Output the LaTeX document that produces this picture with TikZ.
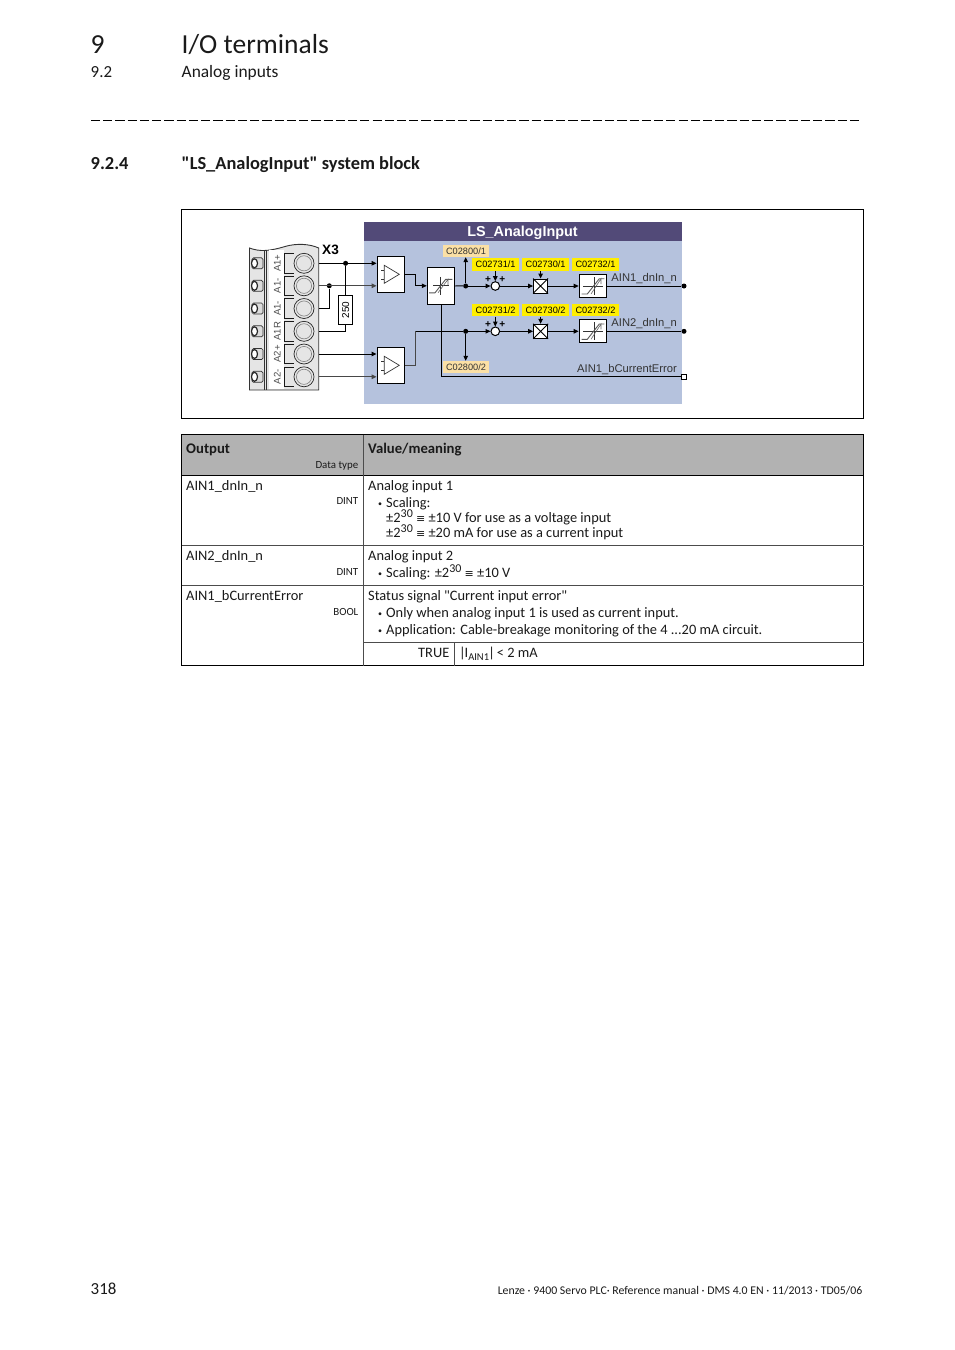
\documentclass[tikz,border=0pt]{standalone}
\usepackage{fontspec}
\setmainfont{Carlito}
\newfontfamily\qf{Carlito}
\newfontfamily\dia{Liberation Sans}
\newfontfamily\sym{DejaVu Sans}
\usetikzlibrary{arrows.meta,calc}
\definecolor{hdr}{HTML}{524A78}
\definecolor{blk}{HTML}{B5C2DD}
\definecolor{tagy}{HTML}{FFEE00}
\definecolor{tago}{HTML}{FBE0A5}
\definecolor{thg}{HTML}{B2B2B2}
\definecolor{ink}{HTML}{1A1A1A}
\newcommand{\fsz}[1]{\fontsize{#1}{#1}\selectfont}
\newcommand{\eqv}{{\fsz{11}\sym ≡}}
\newcommand{\pw}{2\raisebox{4.5pt}{\fsz{12}30}}
\newcommand{\bul}{\makebox[8pt][l]{\raisebox{1pt}{\fsz{8}•}}}
\newcommand{\qq}{{\qf\char34}}
\tikzset{
 txt/.style={anchor=base west,inner sep=0,font=\fsz{14.4},text=ink},
 txr/.style={anchor=base east,inner sep=0,font=\fsz{10.9},text=ink},
 dtxt/.style={anchor=base east,inner sep=0,font=\dia\fsz{11.2},text=black!80},
 tagY/.style={fill=tagy,inner sep=0,minimum width=47.3,minimum height=12.3,font=\dia\fsz{9.2}},
 tagO/.style={fill=tago,inner sep=0,minimum width=45.4,minimum height=12,font=\dia\fsz{9.2},text=black!80},
 wire/.style={line width=1,black},
 gwire/.style={line width=1.2,black!72},
 tip/.style={-{Triangle[length=5,width=4.5]}},
 dot/.style={circle,fill=black,inner sep=0,minimum size=5},
 fbox/.style={draw=black,line width=1,fill=white,inner sep=0},
 rule/.style={line width=.8,black},
 trow/.style={line width=.5,black!70},
}
\newcommand{\limiter}[1]{%
 \draw[line width=.7,black!80] ($(#1)+(-8,0)$)--($(#1)+(7.5,0)$) ($(#1)+(-.3,-9)$)--($(#1)+(-.3,9)$);
 \draw[line width=.9,black!65] ($(#1)+(-12,7)$)--($(#1)+(-6,7)$)--($(#1)+(4.7,-6.5)$)--($(#1)+(11.3,-6.5)$);
 \draw[line width=.6,black!60] ($(#1)+(-3,7)$)--($(#1)+(7,-6.5)$)--($(#1)+(7,-1)$);
}
\newcommand{\gainsym}[1]{%
 \draw[line width=.7,black!80] ($(#1)+(-10,0)$)--($(#1)+(10,0)$) ($(#1)+(1,-9)$)--($(#1)+(1,9)$);
 \draw[line width=.9,black!65] ($(#1)+(-11.3,8)$)--($(#1)+(-5.7,8)$)--($(#1)+(6.3,-7.3)$)--($(#1)+(11.3,-7.3)$);
 \draw[line width=.6,black!60] ($(#1)+(-2,8)$)--($(#1)+(8,-7.3)$)--($(#1)+(8,-2)$);
}
\newcommand{\ampsym}[1]{%
 \draw[line width=.7,black!80] ($(#1)+(-6.5,-9)$)--($(#1)+(-6.5,9)$)--($(#1)+(8.5,0)$)--cycle;
 \draw[line width=.6,black!80] ($(#1)+(-9.5,-4.5)$)--($(#1)+(-6.5,-4.5)$) ($(#1)+(-9.5,4.5)$)--($(#1)+(-6.5,4.5)$);
}
\newcommand{\termrow}[3]{% name, y, label
 \draw[line width=.7,black!80,fill=black!14,rounded corners=1.5] (252,#2-5.5) rectangle (263,#2+5.5);
 \draw[line width=1.2,black!85,fill=white] (254.5,#2) ellipse (3 and 4.5);
 \draw[line width=.9,black!90] (294,#2-9.8)--(284.8,#2-9.8)--(284.8,#2+9.8)--(294,#2+9.8);
 \draw[line width=.6,black!50] (304,#2) circle (7.6);
 \node[circle,draw=black!85,line width=.7,minimum size=20,inner sep=0] (#1) at (304,#2) {};
 \node[rotate=90,inner sep=0,font=\dia\fsz{9.6},text=black!70] (#1l) at (277.3,#2) {#3};
 \coordinate (#1p) at (318.7,#2);
}
\begin{document}
\begin{tikzpicture}[x=1pt,y=-1pt]
\useasboundingbox (0,0) rectangle (954,1350);
\fill[white] (0,0) rectangle (954,1350);
% page header
\node[txt,font=\fsz{27.5}] (ch) at (90.5,53.5) {9};
\node[txt,font=\fsz{27.5}] (cht) at (181.5,53.5) {I/O terminals};
\node[txt,font=\fsz{16.9}] (sc) at (90.5,77) {9.2};
\node[txt,font=\fsz{17.4}] (sct) at (181.5,77) {Analog inputs};
\draw[line width=1,black,dash pattern=on 9.2 off 3.04] (91,120)--(860,120);
\node[txt,font=\bfseries\fsz{18.4}] (ss) at (90.5,169) {9.2.4};
\node[txt,font=\bfseries\fsz{18.4}] (sst) at (181.5,169) {\qq LS\_AnalogInput\qq{} system block};
% figure frame
\draw[rule] (181.5,209.5) rectangle (863.5,418.5);
% function block
\fill[blk] (364,241) rectangle (682,404);
\fill[hdr] (364,222) rectangle (682,241);
\node[anchor=base,inner sep=0,font=\dia\bfseries\fsz{14.4},text=white] (bt) at (522.5,236) {LS\_AnalogInput};
% terminal block
\draw[line width=.9,black!80,fill=black!10] (249.5,248) .. controls (260,252) and (270,251) .. (285,246.5) .. controls (297,243) and (310,244) .. (318.7,248) -- (318.7,390) -- (249.5,390) -- cycle;
\fill[white] (269,250) rectangle (284,389);
\draw[line width=.8,black!80] (264,250.5)--(264,390) (266.7,250.5)--(266.7,390);
\termrow{ta}{263.3}{A1+}
\termrow{tb}{285.8}{A1-}
\termrow{tc}{308.5}{A1-}
\termrow{td}{331.3}{A1R}
\termrow{te}{354}{A2+}
\termrow{tf}{376.8}{A2-}
\node[anchor=base west,inner sep=0,font=\dia\bfseries\fsz{13.6}] (x3) at (322,254) {X3};
% amplifiers and blocks
\node[fbox,minimum width=27.5,minimum height=36] (amp1) at (390.8,274.3) {};
\node[fbox,minimum width=27.5,minimum height=36] (amp2) at (390.8,365.3) {};
\ampsym{amp1} \ampsym{amp2}
\node[fbox,minimum width=27.5,minimum height=37] (lim) at (441,285.8) {};
\limiter{lim}
\node[fbox,minimum width=14,minimum height=29,font=\dia\fsz{10}] (r250) at (345.6,309.8) {\rotatebox{90}{250}};
% nodes of the signal paths
\node[dot] (j1) at (345.6,263.3) {};
\node[dot] (j2) at (329.3,285.8) {};
\node[dot] (j3) at (465.7,286) {};
\node[dot] (j4) at (465.7,331.3) {};
\node[dot] (o1) at (684,286) {};
\node[dot] (o2) at (684,331.3) {};
\node[draw=black,fill=white,line width=.9,inner sep=0,minimum size=5] (o3) at (683.7,376.7) {};
\node[tagO] (tago1) at (466,251) {C02800/1};
\node[tagO] (tago2) at (466,367) {C02800/2};
\foreach \n/\x/\t in {a/495.6/C02731,b/545.6/C02730,c/595.5/C02732}{
  \node[tagY] (\n1) at (\x,264.5) {\t/1};
  \node[tagY] (\n2) at (\x,310.2) {\t/2};
}
\foreach \r/\y in {1/286,2/331.3}{
  \node[circle,draw=black,fill=white,line width=1,inner sep=0,minimum size=8.6] (s\r) at (495.3,\y) {};
  \node[draw=black,fill=white,line width=1,inner sep=0,minimum size=14] (m\r) at (540.6,\y) {};
  \draw[line width=.9] (m\r.north west)--(m\r.south east) (m\r.north east)--(m\r.south west);
  \node[fbox,minimum width=27.7,minimum height=23.2] (g\r) at (593,\y) {};
  \gainsym{g\r}
  \node[inner sep=0,font=\dia\bfseries\fsz{10}] (pl\r) at (488,\y-6.5) {+};
  \node[inner sep=0,font=\dia\bfseries\fsz{10}] (pr\r) at (502.3,\y-6.5) {+};
}
% wires
\draw[wire,tip] (tap) -- (tap -| amp1.west);
\draw[gwire,tip] (tbp) -- (tbp -| amp1.west);
\draw[wire] (j2) |- (tcp);
\draw[wire] (j1) -- (r250.north);
\draw[wire] (r250.south) |- (tdp);
\draw[wire,tip] (tep) -- (tep -| amp2.west);
\draw[gwire,tip] (tfp) -- (tfp -| amp2.west);
\draw[wire,tip] (amp1.east) -- (415.3,274.3) -- (415.3,285.8) -- (lim.west);
\draw[wire] (lim.east) -- (j3);
\draw[gwire] (amp2.east) -- (415.7,365.3) -- (415.7,331.3);
\draw[wire] (415.7,331.3) -- (j4);
\draw[wire,tip] (j3) -- (tago1.south -| j3);
\draw[wire,tip] (j4) -- (tago2.north -| j4);
\draw[wire] (lim.south) -- (lim.south |- o3) -- (o3);
\foreach \r/\j in {1/j3,2/j4}{
  \draw[wire,tip] (\j) -- (s\r);
  \draw[wire,tip] (s\r) -- (m\r);
  \draw[wire,tip] (m\r) -- (g\r);
}
\draw[wire] (g1.east) -- (o1);
\draw[wire] (g2.east) -- (o2);
\draw[wire,tip] (a1.south -| s1) -- (s1.north);
\draw[wire,tip] (a2.south -| s2) -- (s2.north);
\draw[wire,tip] (b1.south -| m1) -- (m1.north);
\draw[wire,tip] (b2.south -| m2) -- (m2.north);
% output labels
\node[dtxt] (l1) at (677,281) {AIN1\_dnIn\_n};
\node[dtxt] (l2) at (677,326.5) {AIN2\_dnIn\_n};
\node[dtxt] (l3) at (677,372) {AIN1\_bCurrentError};
% table
\fill[thg] (181.5,434.5) rectangle (863.5,475.5);
\draw[rule] (181.5,434.5) rectangle (863.5,665.5);
\draw[rule] (181.5,475.5)--(863.5,475.5);
\draw[trow] (181.5,545.5)--(863.5,545.5) (181.5,585.5)--(863.5,585.5) (363.5,642.5)--(863.5,642.5) (454.5,642.5)--(454.5,665.5);
\draw[trow] (363.5,434.5)--(363.5,665.5);
\node[txt,font=\bfseries\fsz{14.7}] (h1) at (186,453) {Output};
\node[txr] (h1b) at (358.5,468.5) {Data type};
\node[txt,font=\bfseries\fsz{14.7}] (h2) at (368,453) {Value/meaning};
\node[txt] (r1) at (186,490) {AIN1\_dnIn\_n};
\node[txr] (r1b) at (358.5,504) {DINT};
\node[txt] (r2) at (186,560) {AIN2\_dnIn\_n};
\node[txr] (r2b) at (358.5,575) {DINT};
\node[txt] (r3) at (186,600) {AIN1\_bCurrentError};
\node[txr] (r3b) at (358.5,615) {BOOL};
\node[txt] (v1) at (368,490) {Analog input 1};
\node[txt] (v1a) at (378,507) {\bul Scaling:};
\node[txt] (v1b) at (386,522) {±\pw{} \eqv{} ±10 V for use as a voltage input};
\node[txt] (v1c) at (386,537) {±\pw{} \eqv{} ±20 mA for use as a current input};
\node[txt] (v2) at (368,560) {Analog input 2};
\node[txt] (v2a) at (378,577) {\bul Scaling: ±\pw{} \eqv{} ±10 V};
\node[txt] (v3) at (368,600) {Status signal \qq Current input error\qq};
\node[txt] (v3a) at (378,617) {\bul Only when analog input 1 is used as current input.};
\node[txt] (v3b) at (378,634) {\bul Application: Cable-breakage monitoring of the 4 ...20 mA circuit.};
\node[anchor=base east,inner sep=0,font=\fsz{14.4},text=ink] (v4) at (449.5,657) {TRUE};
\node[txt] (v4b) at (459,657) {|\kern-1.2pt I\raisebox{-3pt}{\fsz{10.5}AIN1}\kern-.6pt|\kern-1.5pt\ < 2 mA};
% footer
\node[txt,font=\fsz{16.9}] (pg) at (90.5,1294) {318};
\node[anchor=base east,inner sep=0,font=\fsz{11.8},text=ink] (ft) at (862.5,1294) {Lenze · 9400 Servo PLC· Reference manual · DMS 4.0 EN · 11/2013 · TD05/06};
\end{tikzpicture}
\end{document}
